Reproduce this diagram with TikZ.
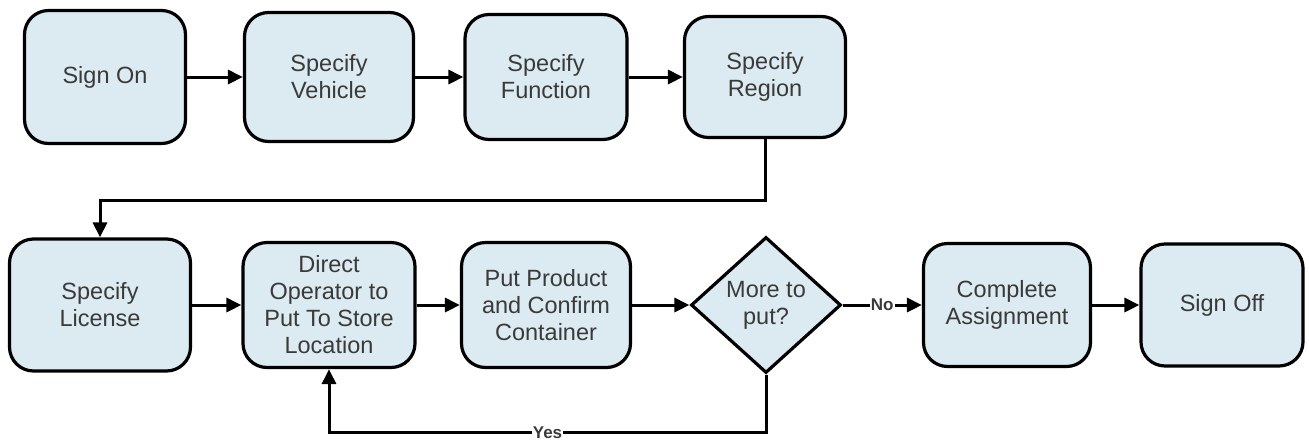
\documentclass[tikz,border=0pt]{standalone}
\usepackage{fontspec}
\setmainfont{Liberation Sans}
\usetikzlibrary{shapes.geometric,arrows.meta}
\definecolor{boxfill}{HTML}{DCEAF1}
\definecolor{boxtext}{HTML}{3A3A3A}
\begin{document}
\begin{tikzpicture}[x=1pt,y=-1pt,
  stepbox/.style={rectangle, draw=black, line width=3.2pt, fill=boxfill,
    rounded corners=24pt, text=boxtext, align=center, inner sep=0pt,
    font=\fontsize{23.5}{27}\selectfont},
  decision/.style={diamond, draw=black, line width=3.2pt, fill=boxfill,
    text=boxtext, align=center, inner sep=0pt,
    font=\fontsize{23.5}{27}\selectfont},
  flow/.style={draw=black, line width=3pt, -{Triangle[length=15pt,width=14pt]}},
  tag/.style={fill=white, inner sep=1pt, text=boxtext,
    font=\fontsize{17}{19}\selectfont\bfseries}
]
\useasboundingbox (0,0) rectangle (1309,440);

% top row
\node[stepbox, minimum width=161pt, minimum height=133pt] (signon)   at (105,77)  {Sign On};
\node[stepbox, minimum width=169pt, minimum height=129pt] (vehicle)  at (329,77)  {Specify\\Vehicle};
\node[stepbox, minimum width=162pt, minimum height=125pt] (function) at (546,77)  {Specify\\Function};
\node[stepbox, minimum width=161pt, minimum height=121pt] (region)   at (765,77)  {Specify\\Region};

% bottom row
\node[stepbox, minimum width=181pt, minimum height=132pt] (license)  at (100,305) {Specify\\License};
\node[stepbox, minimum width=172pt, minimum height=125pt] (direct)   at (329,305) {Direct\\Operator to\\Put To Store\\Location};
\node[stepbox, minimum width=169pt, minimum height=125pt] (product)  at (546,305) {Put Product\\and Confirm\\Container};
\node[decision, minimum width=150pt, minimum height=136pt] (more)    at (766,305) {More to\\put?};
\node[stepbox, minimum width=167pt, minimum height=123pt] (complete) at (1007,305) {Complete\\Assignment};
\node[stepbox, minimum width=162pt, minimum height=122pt] (signoff)  at (1222,305) {Sign Off};

% connectors
\draw[flow] (signon) -- (vehicle);
\draw[flow] (vehicle) -- (function);
\draw[flow] (function) -- (region);
\draw[flow] (region.south) -- ++(0,61) -| (license.north);
\draw[flow] (license) -- (direct);
\draw[flow] (direct) -- (product);
\draw[flow] (product) -- (more);
\draw[flow] (more.east) -- node[tag]{No} (complete.west);
\draw[flow] (complete) -- (signoff);
\draw[flow] (more.south) -- ++(0,58) -| node[pos=0.25, tag]{Yes} (direct.south);
\end{tikzpicture}
\end{document}
